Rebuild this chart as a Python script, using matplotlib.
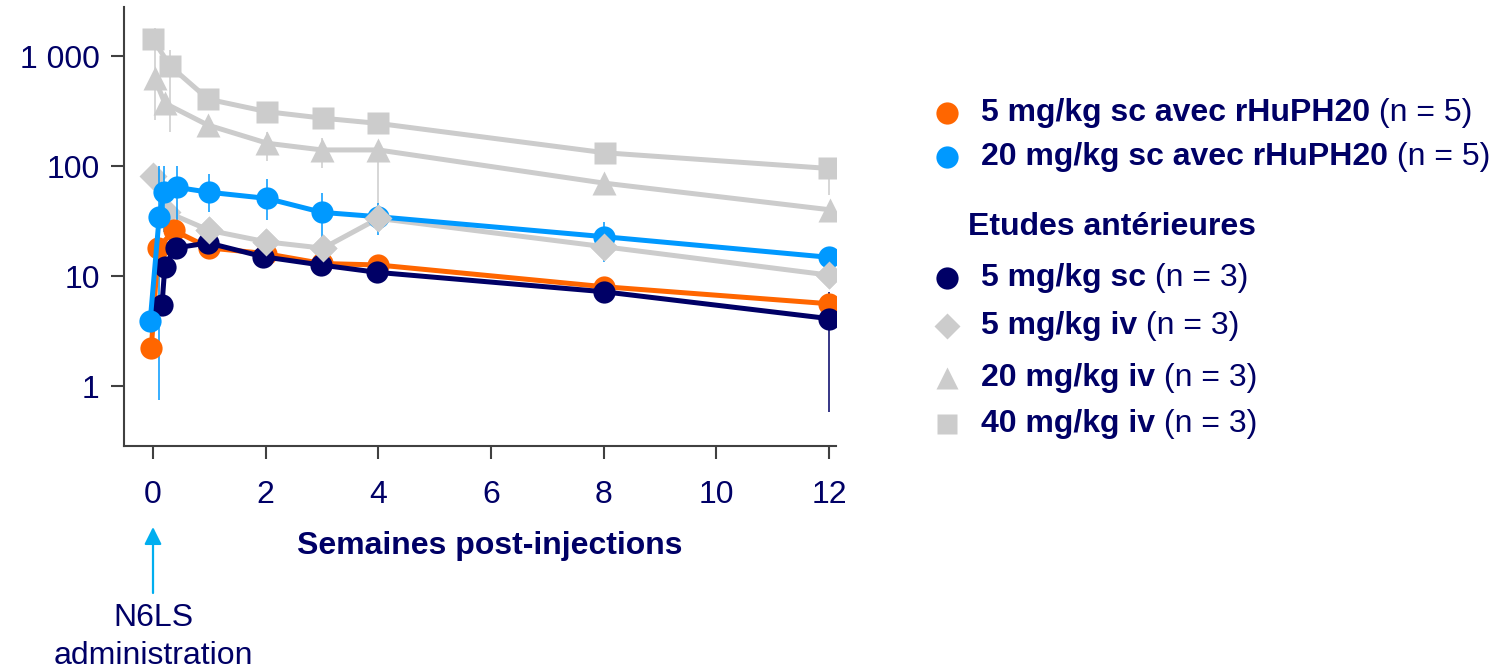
import matplotlib
matplotlib.use("Agg")
import matplotlib.pyplot as plt
from matplotlib.ticker import FixedLocator, FixedFormatter

plt.rcParams["font.family"] = ["Liberation Sans", "DejaVu Sans"]

NAVY = "#000066"
ORANGE = "#FF6600"
BLUE = "#0099FF"
GRAY = "#CCCCCC"
AXIS = "#404040"
ARROW = "#00AEEF"

# --- nouvelles données (sc avec rHuPH20) ---
orange_wk = [-0.03, 0.09, 0.37, 1, 2, 3, 4, 8, 12]
orange_val = [2.2, 17.9, 26, 18, 16, 13, 12.6, 8.0, 5.6]

blue_wk = [-0.05, 0.11, 0.2, 0.42, 1, 2.02, 3, 4, 8, 12]
blue_val = [3.9, 34.6, 58, 64, 57.7, 50.8, 37.9, 34.6, 22.8, 14.8]
blue_err_wk = [0.11, 0.2, 0.42, 1, 2.02, 3, 4, 8]
blue_err_lo = [0.75, 25, 25, 38.5, 32.3, 22.7, 23.5, 13.5]
blue_err_hi = [100, 100, 100, 85, 76, 56.5, 46, 31]

# --- études antérieures ---
navy_wk = [0.16, 0.21, 0.4, 0.98, 1.95, 2.98, 3.98, 8, 12]
navy_val = [5.5, 12.2, 18.0, 20, 15.0, 12.6, 10.8, 7.2, 4.1]
navy_err_wk = [12]
navy_err_lo = [0.58]
navy_err_hi = [7.2]

dia_wk = [0, 0.25, 1, 2, 3.02, 4, 8, 12]
dia_val = [81, 38, 26, 20.5, 17.9, 33.4, 18.5, 10.2]

tri_wk = [0.03, 0.21, 0.97, 2.03, 3, 4, 8, 12.02]
tri_val = [627, 372, 236, 161, 140, 140, 70, 40]
tri_err_wk = [0.03, 2.03, 3, 4]
tri_err_lo = [262, 110, 96, 33]
tri_err_hi = [1800, 205, 180, 140]

sq_wk = [0, 0.3, 0.98, 2.02, 3.02, 4, 8.02, 12]
sq_val = [1420, 815, 405, 312, 272, 244, 132, 95]
sq_err_wk = [0.3, 12]
sq_err_lo = [205, 55]
sq_err_hi = [1140, 95]

x_ticks = [0, 2, 4, 6, 8, 10, 12]
y_ticks = [1, 10, 100, 1000]
y_tick_labels = ["1", "10", "100", "1 000"]

legend_rows = [
    ("5 mg/kg sc avec rHuPH20", " (n = 5)", "o", ORANGE),
    ("20 mg/kg sc avec rHuPH20", " (n = 5)", "o", BLUE),
    ("5 mg/kg sc", " (n = 3)", "o", NAVY),
    ("5 mg/kg iv", " (n = 3)", "D", GRAY),
    ("20 mg/kg iv", " (n = 3)", "^", GRAY),
    ("40 mg/kg iv", " (n = 3)", "s", GRAY),
]
legend_heading = "Etudes antérieures"

FS = 23
LW = 3.6
MS_CIRCLE = 16

fig = plt.figure(figsize=(15.03, 6.7), dpi=100)
ax = fig.add_axes([124 / 1503, 1 - 446 / 670, (836 - 124) / 1503, (446 - 7) / 670])

ax.set_yscale("log")
ax.set_xlim(-0.515, 12.125)
ax.set_ylim(0.285, 2790)

# barres d'erreur fines
ax.vlines(tri_err_wk, tri_err_lo, tri_err_hi, color=GRAY, lw=1.1, zorder=1)
ax.vlines(sq_err_wk, sq_err_lo, sq_err_hi, color=GRAY, lw=1.1, zorder=1)
ax.vlines(blue_err_wk, blue_err_lo, blue_err_hi, color=BLUE, lw=1.1, zorder=2.5)
ax.vlines(navy_err_wk, navy_err_lo, navy_err_hi, color=NAVY, lw=1.1, zorder=2.5)

ax.plot(sq_wk, sq_val, color=GRAY, lw=LW, marker="s", ms=16, mec="none", zorder=2)
ax.plot(tri_wk, tri_val, color=GRAY, lw=LW, marker="^", ms=17, mec="none", zorder=2)
ax.plot(dia_wk, dia_val, color=GRAY, lw=LW, marker="D", ms=14, mec="none", zorder=2)

ax.plot(orange_wk, orange_val, color=ORANGE, lw=LW, marker="o", ms=MS_CIRCLE, mec="none", zorder=3)
ax.plot(navy_wk, navy_val, color=NAVY, lw=LW, marker="o", ms=MS_CIRCLE, mec="none", zorder=4)
ax.plot(blue_wk, blue_val, color=BLUE, lw=LW, marker="o", ms=MS_CIRCLE, mec="none", zorder=5)

# losanges repassés au premier plan après la première semaine
ax.plot(dia_wk, dia_val, ls="none", color=GRAY, marker="D", ms=14, mec="none",
        markevery=slice(2, None), zorder=6)

for side in ["top", "right"]:
    ax.spines[side].set_visible(False)
for side in ["left", "bottom"]:
    ax.spines[side].set_color(AXIS)
    ax.spines[side].set_linewidth(1.5)

ax.xaxis.set_major_locator(FixedLocator(x_ticks))
ax.yaxis.set_major_locator(FixedLocator(y_ticks))
ax.yaxis.set_major_formatter(FixedFormatter(y_tick_labels))
ax.yaxis.set_minor_locator(FixedLocator([]))
ax.tick_params(axis="both", direction="out", length=9.5, width=1.5, color=AXIS,
               labelcolor=NAVY, labelsize=FS)
ax.tick_params(axis="y", pad=8)
ax.tick_params(axis="x", pad=15)

ax.set_xlabel("Semaines post-injections", fontsize=FS, fontweight="bold", color=NAVY)
ax.xaxis.set_label_coords((490 - 124) / 712, -0.194)

# flèche d'administration
ax.annotate("", xy=(0, 1 - 527 / 670), xycoords=("data", "figure fraction"),
            xytext=(0, 1 - 593 / 670), textcoords=("data", "figure fraction"),
            arrowprops=dict(arrowstyle="-|>", color=ARROW, lw=1.6, mutation_scale=26,
                            shrinkA=0, shrinkB=0))
ax.annotate("N6LS\nadministration", xy=(0, 1 - 603 / 670),
            xycoords=("data", "figure fraction"), ha="center", va="top",
            fontsize=FS, color=NAVY, linespacing=1.35)

# légende dessinée à la main
leg = fig.add_axes([0, 0, 1, 1])
leg.set_xlim(0, 1503)
leg.set_ylim(670, 0)
leg.axis("off")

row_y = [113, 157, 278, 326, 378, 424]
marker_sizes = {"o": 16, "D": 13.5, "^": 16, "s": 14}
for (bold, normal, mk, col), y in zip(legend_rows, row_y):
    leg.plot([947], [y], ls="none", marker=mk, ms=marker_sizes[mk], color=col, mec="none")
    t = leg.text(981, y, bold, fontsize=FS, fontweight="bold", color=NAVY, va="center")
    leg.annotate(normal, xy=(1, 0), xycoords=t, va="bottom", ha="left",
                 fontsize=FS, color=NAVY)

leg.text(968, 227, legend_heading, fontsize=FS, fontweight="bold", color=NAVY, va="center")

fig.savefig("out.png", dpi=100)
